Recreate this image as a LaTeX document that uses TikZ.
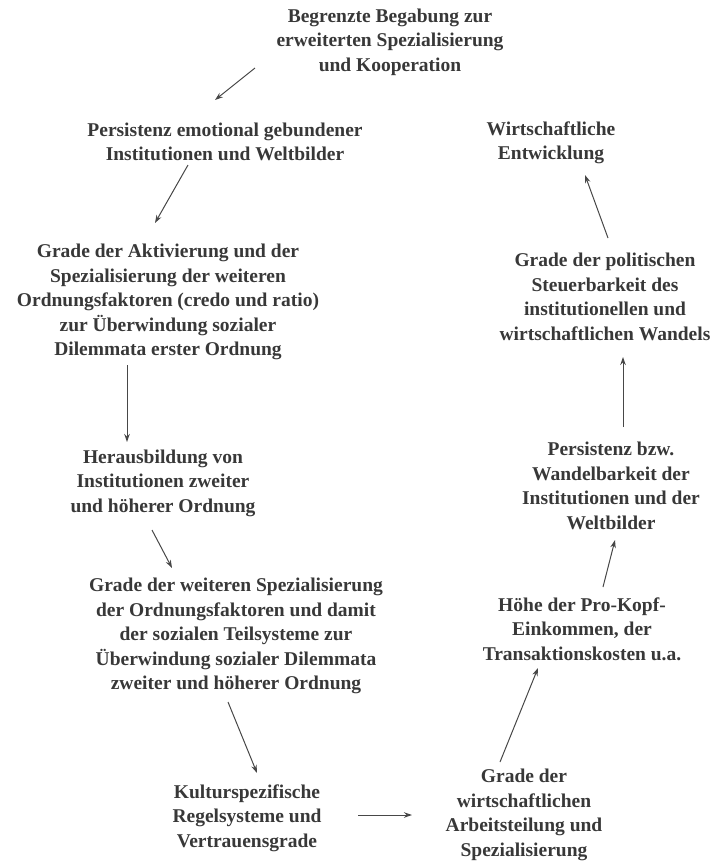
\documentclass[tikz,border=0pt]{standalone}
\usepackage{fontspec}
\setmainfont{Liberation Serif}
\usetikzlibrary{calc,arrows.meta}
\begin{document}
\begin{tikzpicture}[x=1pt,y=1pt,
  txt/.style={align=center,inner sep=0pt,text=black!78,
    font=\bfseries\fontsize{19.5}{24.5}\selectfont},
  arr/.style={draw=black!72,line width=1pt,-{Stealth[length=8pt,width=5.5pt]}}]
\useasboundingbox (0,0) rectangle (715,-863);
% nodes of the causal chain
\node[txt] (n1) at (390,-42) {Begrenzte Begabung zur\\erweiterten Spezialisierung\\und Kooperation};
\node[txt] (n2) at (225,-142) {Persistenz emotional gebundener\\Institutionen und Weltbilder};
\node[txt] (n3) at (168,-302) {Grade der Aktivierung und der\\Spezialisierung der weiteren\\Ordnungsfaktoren (credo und ratio)\\zur Überwindung sozialer\\Dilemmata erster Ordnung};
\node[txt] (n4) at (163,-483) {Herausbildung von\\Institutionen zweiter\\und höherer Ordnung};
\node[txt] (n5) at (236,-636) {Grade der weiteren Spezialisierung\\der Ordnungsfaktoren und damit\\der sozialen Teilsysteme zur\\Überwindung sozialer Dilemmata\\zweiter und höherer Ordnung};
\node[txt] (n6) at (247,-818) {Kulturspezifische\\Regelsysteme und\\Vertrauensgrade};
\node[txt] (n7) at (524,-815) {Grade der\\wirtschaftlichen\\Arbeitsteilung und\\Spezialisierung};
\node[txt] (n8) at (582,-629) {Höhe der Pro-Kopf-\\Einkommen, der\\Transaktionskosten u.a.};
\node[txt] (n9) at (611,-486) {Persistenz bzw.\\Wandelbarkeit der\\Institutionen und der\\Weltbilder};
\node[txt] (n10) at (605,-297) {Grade der politischen\\Steuerbarkeit des\\institutionellen und\\wirtschaftlichen Wandels};
\node[txt] (n11) at (551,-143) {Wirtschaftliche\\Entwicklung};
% connectors
\draw[arr] ($(n1)+(-135,-26)$) -- ($(n2)+(-10,42)$);
\draw[arr] ($(n2)+(-37,-23)$) -- ($(n3)+(-13,79)$);
\draw[arr] ($(n3)+(-41,-63)$) -- ($(n4)+(-36,41)$);
\draw[arr] ($(n4)+(-11,-47)$) -- ($(n5)+(-64,68)$);
\draw[arr] ($(n5)+(-8,-66)$) -- ($(n6)+(10,45)$);
\draw[arr] ($(n6)+(111,3)$) -- ($(n7)+(-112,0)$);
\draw[arr] ($(n7)+(-24,53)$) -- ($(n8)+(-44,-39)$);
\draw[arr] ($(n8)+(21,42)$) -- ($(n9)+(4,-54)$);
\draw[arr] ($(n9)+(12,59)$) -- ($(n10)+(18,-60)$);
\draw[arr] ($(n10)+(3,59)$) -- ($(n11)+(34,-32)$);
\end{tikzpicture}
\end{document}
